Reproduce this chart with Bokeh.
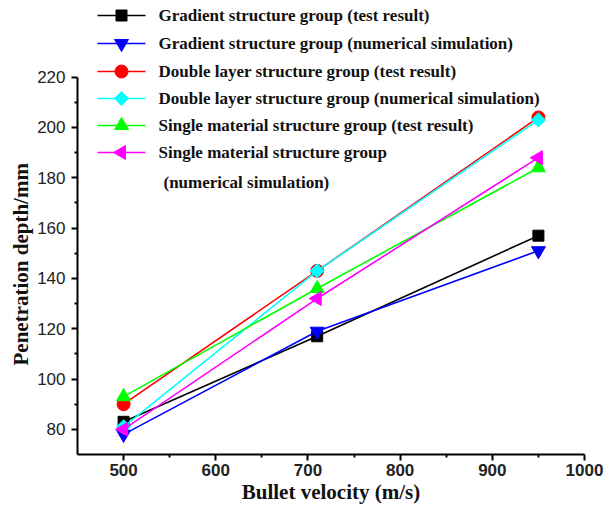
import math
from bokeh.plotting import figure
from bokeh.models import Range1d, FixedTicker, Label, Title
from bokeh.embed import file_html
from bokeh.resources import INLINE

# Penetration depth (mm) against bullet velocity (m/s)
velocity = [500, 710, 950]
gradient_test = [83, 117, 157]
gradient_sim = [78, 119, 151]
double_test = [90, 143, 204]
double_sim = [81, 143, 203]
single_test = [93, 136, 184]
single_sim = [80, 132, 188]

x_ticks = [500, 600, 700, 800, 900, 1000]
x_minor = [550, 650, 750, 850, 950]
y_ticks = [80, 100, 120, 140, 160, 180, 200, 220]
y_minor = [90, 110, 130, 150, 170, 190, 210]

# frame geometry (pixels) and data ranges; the frame reaches up to hold the key
FRAME_L, FRAME_W = 77, 507
FRAME_T, FRAME_H = 5, 449
X0, X1 = 450, 1000
Y0, Y1 = 70, 248.5
KX = FRAME_W / (X1 - X0)
KY = FRAME_H / (Y1 - Y0)


def dx(sx):
    """screen x (px) -> data x"""
    return X0 + (sx - FRAME_L) / KX


def dy(sy):
    """screen y (px, from top) -> data y"""
    return Y0 + (FRAME_T + FRAME_H - sy) / KY


p = figure(width=609, height=513, output_backend="svg", toolbar_location=None,
           min_border_left=FRAME_L, min_border_right=609 - FRAME_L - FRAME_W,
           min_border_top=FRAME_T, min_border_bottom=513 - FRAME_T - FRAME_H,
           x_range=Range1d(X0, X1), y_range=Range1d(Y0, Y1))
p.outline_line_color = None
p.grid.visible = False
p.background_fill_color = "white"
p.border_fill_color = "white"

for ax in (p.xaxis[0], p.yaxis[0]):
    ax.axis_line_width = 2
    ax.axis_line_color = "black"
    ax.major_tick_line_width = 2
    ax.minor_tick_line_width = 2
    ax.major_tick_out = 6
    ax.major_tick_in = 0
    ax.minor_tick_out = 3
    ax.minor_tick_in = 0
    ax.major_label_text_font = "Liberation Sans"
    ax.major_label_text_font_size = "17px"
    ax.major_label_text_color = "#222222"
    ax.axis_label_text_font = "Liberation Serif"
    ax.axis_label_text_font_style = "bold"
    ax.axis_label_text_font_size = "21px"
    ax.axis_label_text_color = "#111111"

p.xaxis.ticker = FixedTicker(ticks=x_ticks, minor_ticks=x_minor)
p.yaxis.ticker = FixedTicker(ticks=y_ticks, minor_ticks=y_minor)
p.xaxis.bounds = (450, 1000)
p.yaxis.bounds = (70, 220)
p.xaxis.major_label_text_font_style = "bold"
p.xaxis.major_label_standoff = 3
p.yaxis.major_label_standoff = 6
p.xaxis.axis_label_standoff = 1
p.xaxis.axis_label = "Bullet velocity (m/s)"

# y title as a side title so it can sit over the 70-220 span of the axis
p.add_layout(Title(text="Penetration depth/mm", align="left", offset=89, standoff=4,
                   text_font="Liberation Serif", text_font_style="bold",
                   text_font_size="21px", text_color="#111111"), "left")

series = [
    ("Gradient structure group (test result)", gradient_test, "black", "square", 11, 0),
    ("Gradient structure group (numerical simulation)", gradient_sim, "#0000ff", "inverted_triangle", 14, 0),
    ("Double layer structure group (test result)", double_test, "#ff0000", "circle", 13, 0),
    ("Double layer structure group (numerical simulation)", double_sim, "#00ffff", "square", 10, math.pi / 4),
    ("Single material structure group (test result)", single_test, "#00ff00", "triangle", 14, 0),
    ("Single material structure group", single_sim, "#ff00ff", "triangle", 14, math.pi / 2),
]

# key rows: centre line of each entry (px from top)
row_y = [15, 43, 71, 98, 125, 152]
text_style = dict(text_font="Liberation Serif", text_font_style="bold",
                  text_font_size="17px", text_color="#111111", text_baseline="middle")

for (label, ys, color, marker, size, angle), ry in zip(series, row_y):
    p.line(velocity, ys, line_color=color, line_width=1.6)
    p.scatter(velocity, ys, marker=marker, size=size, angle=angle,
              fill_color=color, line_color=color, line_width=1)
    # key entry
    p.segment(x0=[dx(97)], y0=[dy(ry)], x1=[dx(145)], y1=[dy(ry)],
              line_color=color, line_width=1.6)
    p.scatter([dx(121)], [dy(ry)], marker=marker, size=size, angle=angle,
              fill_color=color, line_color=color, line_width=1)
    p.add_layout(Label(x=dx(158), y=dy(ry), text=label, **text_style))

p.add_layout(Label(x=dx(163), y=dy(182), text="(numerical simulation)", **text_style))

open("out.html", "w").write(file_html(p, INLINE))
